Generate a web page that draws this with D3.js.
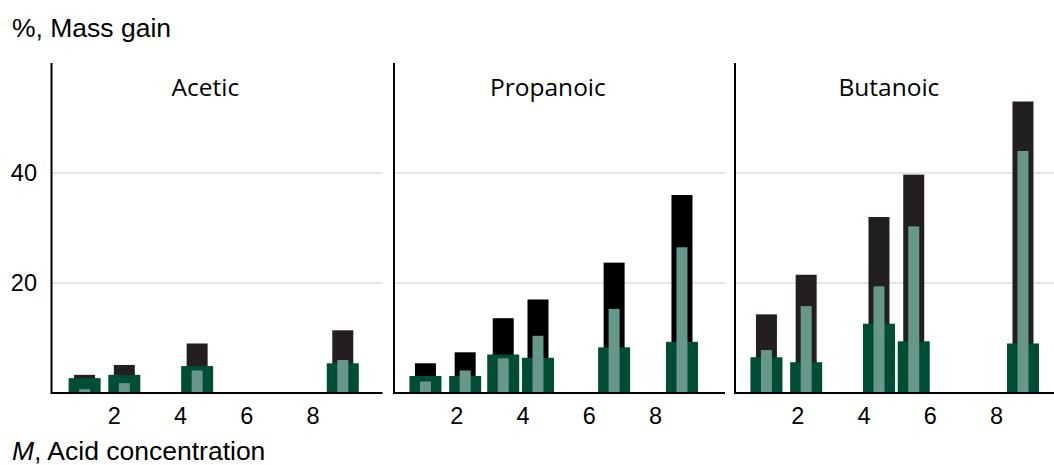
<!DOCTYPE html>
<html><head><meta charset="utf-8">
<script src="https://cdn.jsdelivr.net/npm/d3@7"></script>
<style>body{margin:0;background:#fff;overflow:hidden}svg{display:block}</style>
</head><body><svg id="c" width="1054" height="465"></svg>
<script>
const panels = ["Acetic", "Propanoic", "Butanoic"];
const blackColors = ["#231f20", "#000000", "#231f20"];
// concentration (M) per bar
const conc = [
  [1.1, 2.3, 4.5, 8.9],
  [1.05, 2.25, 3.4, 4.45, 6.75, 8.8],
  [1.05, 2.25, 4.45, 5.5, 8.8]
];
// total mass gain (black bars)
const total = [
  [3.3, 5.1, 9.0, 11.4],
  [5.4, 7.4, 13.6, 17.0, 23.7, 36.0],
  [14.3, 21.5, 32.0, 39.7, 53.0]
];
// dark green wide bars
const partA = [
  [2.7, 3.3, 4.9, 5.4],
  [3.1, 3.1, 7.0, 6.4, 8.3, 9.3],
  [6.5, 5.6, 12.6, 9.4, 9.0]
];
// light green narrow bars
const partB = [
  [0.7, 1.8, 4.1, 6.0],
  [2.1, 4.1, 6.3, 10.4, 15.3, 26.5],
  [7.8, 15.8, 19.4, 30.3, 44.0]
];
const yTicks = [20, 40];
const xTicks = [2, 4, 6, 8];

(function () {
const svg = d3.select("#c");
const panelLeft = [51.5, 394, 735];
const panelW = 331;
const plotTop = 63, base = 393;
const y = d3.scaleLinear().domain([0, 60]).range([base, plotTop]);

svg.append("text").attr("x", 12).attr("y", 37)
  .attr("font-family", "Liberation Sans, Arial, sans-serif").attr("font-size", 26.5)
  .attr("fill", "#000").text("%, Mass gain");
svg.append("text").attr("x", 12).attr("y", 460)
  .attr("font-family", "Liberation Sans, Arial, sans-serif").attr("font-size", 26.5)
  .attr("fill", "#000")
  .call(t => { t.append("tspan").attr("font-style", "italic").text("M"); t.append("tspan").text(", Acid concentration"); });

svg.append("g").selectAll("text").data(yTicks).join("text")
  .attr("x", 37).attr("y", d => y(d)).attr("dy", "0.35em")
  .attr("text-anchor", "end")
  .attr("font-family", "Liberation Sans, Arial, sans-serif").attr("font-size", 23.5)
  .text(d => d);

panels.forEach((name, i) => {
  const x = d3.scaleLinear().domain([0.1, 10.1]).range([panelLeft[i], panelLeft[i] + panelW]);
  const g = svg.append("g");
  g.selectAll("line.grid").data(yTicks).join("line")
    .attr("x1", panelLeft[i]).attr("x2", panelLeft[i] + panelW)
    .attr("y1", d => y(d)).attr("y2", d => y(d))
    .attr("stroke", "#cccccc").attr("stroke-width", 1.2);
  const idx = d3.range(conc[i].length);
  g.selectAll("rect.tot").data(idx).join("rect")
    .attr("x", d => x(conc[i][d]) - 10.5).attr("width", 21)
    .attr("y", d => y(total[i][d])).attr("height", d => y(0) - y(total[i][d]))
    .attr("fill", blackColors[i]);
  g.selectAll("rect.a").data(idx).join("rect")
    .attr("x", d => x(conc[i][d]) - 16).attr("width", 32)
    .attr("y", d => y(partA[i][d])).attr("height", d => y(0) - y(partA[i][d]))
    .attr("fill", "#004d36");
  g.selectAll("rect.b").data(idx).join("rect")
    .attr("x", d => x(conc[i][d]) - 5.5).attr("width", 11)
    .attr("y", d => y(partB[i][d])).attr("height", d => y(0) - y(partB[i][d]))
    .attr("fill", "#66978a");
  g.append("line").attr("x1", panelLeft[i]).attr("x2", panelLeft[i] + panelW)
    .attr("y1", base).attr("y2", base).attr("stroke", "#000").attr("stroke-width", 2);
  g.append("line").attr("x1", panelLeft[i]).attr("x2", panelLeft[i])
    .attr("y1", plotTop).attr("y2", base + 1).attr("stroke", "#000").attr("stroke-width", 2);
  g.selectAll("text.xt").data(xTicks).join("text")
    .attr("x", d => x(d)).attr("y", 424).attr("text-anchor", "middle")
    .attr("font-family", "Liberation Sans, Arial, sans-serif").attr("font-size", 23.5)
    .text(d => d);
  g.append("text").attr("x", x(4.75)).attr("y", 95.5).attr("text-anchor", "middle")
    .attr("font-family", "Open Sans, sans-serif").attr("font-size", 24.5)
    .text(name);
});
})();
</script></body></html>
